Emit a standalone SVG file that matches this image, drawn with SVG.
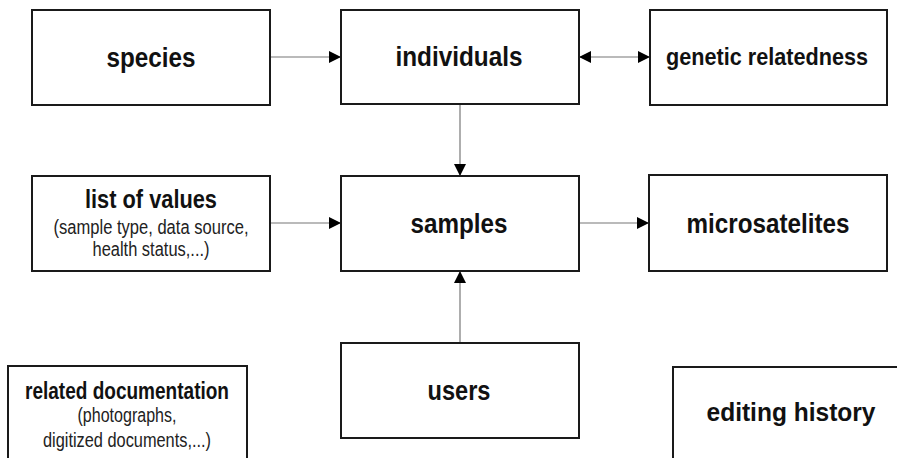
<svg xmlns="http://www.w3.org/2000/svg" width="897" height="458" viewBox="0 0 897 458">
<style>
.box{fill:#fff;stroke:#1a1a1a;stroke-width:2}
.open{fill:none;stroke:#1a1a1a;stroke-width:2}
.t{font-family:"Liberation Sans",Arial,sans-serif;font-weight:bold;fill:#111;text-anchor:middle}
.s{font-family:"Liberation Sans",Arial,sans-serif;fill:#222;text-anchor:middle}
.c{stroke:#777;stroke-width:1.2;fill:none}
</style>
<defs>
<marker id="ah" viewBox="0 0 12 12" refX="12" refY="6" markerWidth="12" markerHeight="12" markerUnits="userSpaceOnUse" orient="auto-start-reverse">
<path d="M0,0 L12,6 L0,12 Z" fill="#000"/>
</marker>
</defs>
<rect width="897" height="458" fill="#fff"/>
<g id="connectors">
<line class="c" x1="270" y1="57" x2="341" y2="57" marker-end="url(#ah)"/>
<line class="c" x1="579" y1="57" x2="650" y2="57" marker-start="url(#ah)" marker-end="url(#ah)"/>
<line class="c" x1="460" y1="104" x2="460" y2="176" marker-end="url(#ah)"/>
<line class="c" x1="270" y1="223" x2="341" y2="223" marker-end="url(#ah)"/>
<line class="c" x1="579" y1="223" x2="649" y2="223" marker-end="url(#ah)"/>
<line class="c" x1="460" y1="343" x2="460" y2="271" marker-end="url(#ah)"/>
</g>
<g id="species">
<rect class="box" x="32" y="10" width="238" height="95"/>
<text class="t" x="151" y="67" font-size="28" textLength="89" lengthAdjust="spacingAndGlyphs">species</text>
</g>
<g id="individuals">
<rect class="box" x="341" y="10" width="238" height="94"/>
<text class="t" x="459" y="66" font-size="28" textLength="127" lengthAdjust="spacingAndGlyphs">individuals</text>
</g>
<g id="genetic-relatedness">
<rect class="box" x="650" y="10" width="237" height="95"/>
<text class="t" x="767" y="65" font-size="24" textLength="202" lengthAdjust="spacingAndGlyphs">genetic relatedness</text>
</g>
<g id="list-of-values">
<rect class="box" x="32" y="176" width="238" height="95"/>
<text class="t" x="151" y="208" font-size="25" textLength="132" lengthAdjust="spacingAndGlyphs">list of values</text>
<text class="s" x="151" y="234" font-size="20" textLength="195" lengthAdjust="spacingAndGlyphs">(sample type, data source,</text>
<text class="s" x="151" y="256" font-size="20" textLength="117" lengthAdjust="spacingAndGlyphs">health status,...)</text>
</g>
<g id="samples">
<rect class="box" x="341" y="176" width="238" height="95"/>
<text class="t" x="459" y="233" font-size="28" textLength="97" lengthAdjust="spacingAndGlyphs">samples</text>
</g>
<g id="microsatelites">
<rect class="box" x="649" y="175" width="238" height="96"/>
<text class="t" x="768" y="233" font-size="28" textLength="163" lengthAdjust="spacingAndGlyphs">microsatelites</text>
</g>
<g id="users">
<rect class="box" x="341" y="343" width="238" height="95"/>
<text class="t" x="459" y="400" font-size="28" textLength="63" lengthAdjust="spacingAndGlyphs">users</text>
</g>
<g id="related-documentation">
<path class="open" d="M8,458 V366 H247 V458"/>
<text class="t" x="127" y="399" font-size="23" textLength="204" lengthAdjust="spacingAndGlyphs">related documentation</text>
<text class="s" x="127" y="422" font-size="20" textLength="99" lengthAdjust="spacingAndGlyphs">(photographs,</text>
<text class="s" x="127" y="447" font-size="20" textLength="168" lengthAdjust="spacingAndGlyphs">digitized documents,...)</text>
</g>
<g id="editing-history">
<path class="open" d="M673,458 V367 H897"/>
<text class="t" x="791" y="421" font-size="26" textLength="169" lengthAdjust="spacingAndGlyphs">editing history</text>
</g>
</svg>
